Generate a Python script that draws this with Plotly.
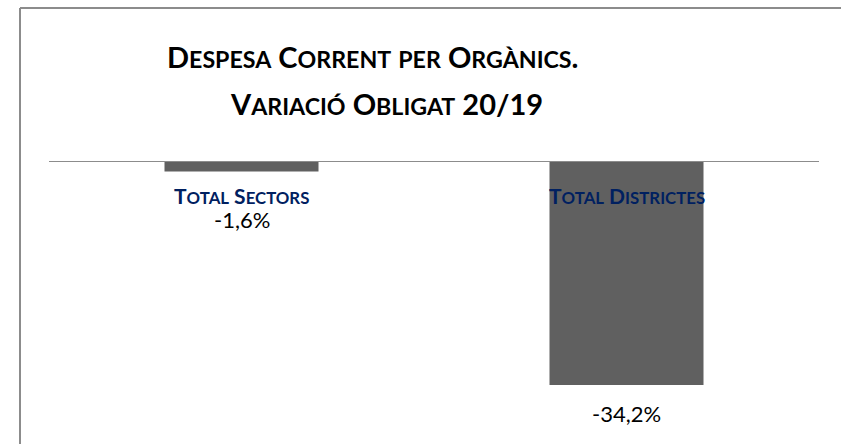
import plotly.graph_objects as go

categories = ["Total Sectors", "Total Districtes"]
values = [-1.6, -34.2]
value_labels = ["-1,6%", "-34,2%"]
title_lines = ["Despesa Corrent per Orgànics.", "Variació Obligat 20/19"]

BAR = "#606060"
NAVY = "#002060"
FRAME = "#8c8c8c"
FONT = "Lato"


def small_caps(text, size, ratio=0.8):
    """Emulate small caps: capitals at full size, lower-case letters as smaller capitals."""
    out = []
    small = round(size * ratio, 1)
    buf, buf_small = "", None
    def flush():
        if buf:
            if buf_small:
                out.append('<span style="font-size:%spx">%s</span>' % (small, buf.upper()))
            else:
                out.append(buf)
    for ch in text:
        is_small = ch.islower()
        if buf_small is None or is_small == buf_small:
            buf += ch
            buf_small = is_small
        else:
            flush()
            buf, buf_small = ch, is_small
    flush()
    return "".join(out)


fig = go.Figure(go.Bar(x=categories, y=values, marker=dict(color=BAR, line=dict(width=0)),
                       width=0.4, hoverinfo="skip"))

W, H = 841, 444
ml, mr, mt, mb = 49, 22, 161, 21
pw, ph = W - ml - mr, H - mt - mb

def px_to_paper_x(px):
    return (px - ml) / pw

def py_to_paper_y(py):
    return (H - mb - py) / ph

TS = 29
annotations = []
annotations.append(dict(x=px_to_paper_x(372), y=py_to_paper_y(56), xref="paper", yref="paper",
                        text="<b>" + small_caps(title_lines[0], TS) + "</b>", showarrow=False,
                        font=dict(family=FONT, size=TS, color="#000000"),
                        xanchor="center", yanchor="middle"))
annotations.append(dict(x=px_to_paper_x(386), y=py_to_paper_y(104), xref="paper", yref="paper",
                        text="<b>" + small_caps(title_lines[1], TS) + "</b>", showarrow=False,
                        font=dict(family=FONT, size=TS, color="#000000"),
                        xanchor="center", yanchor="middle"))
CS = 21
for c, v, lab in zip(categories, values, value_labels):
    annotations.append(dict(x=c, y=-5.3, xref="x", yref="y", text="<b>" + small_caps(c, CS) + "</b>",
                            showarrow=False, font=dict(family=FONT, size=CS, color=NAVY),
                            xanchor="center", yanchor="middle"))
    ly = min(v - 4.4, -9.0)
    annotations.append(dict(x=c, y=ly, xref="x", yref="y", text=lab, showarrow=False,
                            font=dict(family=FONT, size=22, color="#000000"),
                            xanchor="center", yanchor="middle"))

shapes = [
    dict(type="line", xref="paper", yref="y", x0=0, x1=1, y0=0, y1=0,
         line=dict(color=FRAME, width=2)),
    dict(type="line", xref="paper", yref="paper", x0=px_to_paper_x(20), x1=px_to_paper_x(860),
         y0=py_to_paper_y(8), y1=py_to_paper_y(8), line=dict(color=FRAME, width=2)),
    dict(type="line", xref="paper", yref="paper", x0=px_to_paper_x(20), x1=px_to_paper_x(20),
         y0=py_to_paper_y(8), y1=py_to_paper_y(460), line=dict(color=FRAME, width=2)),
]

fig.update_layout(
    width=W, height=H,
    margin=dict(l=ml, r=mr, t=mt, b=mb),
    paper_bgcolor="white", plot_bgcolor="white",
    showlegend=False,
    bargap=0.6,
    xaxis=dict(visible=False, range=[-0.5, 1.5]),
    yaxis=dict(visible=False, range=[-40, 0]),
    annotations=annotations,
    shapes=shapes,
)

fig.write_html("out.html", post_script="document.body.style.margin='0';",
               config={"displayModeBar": False})
